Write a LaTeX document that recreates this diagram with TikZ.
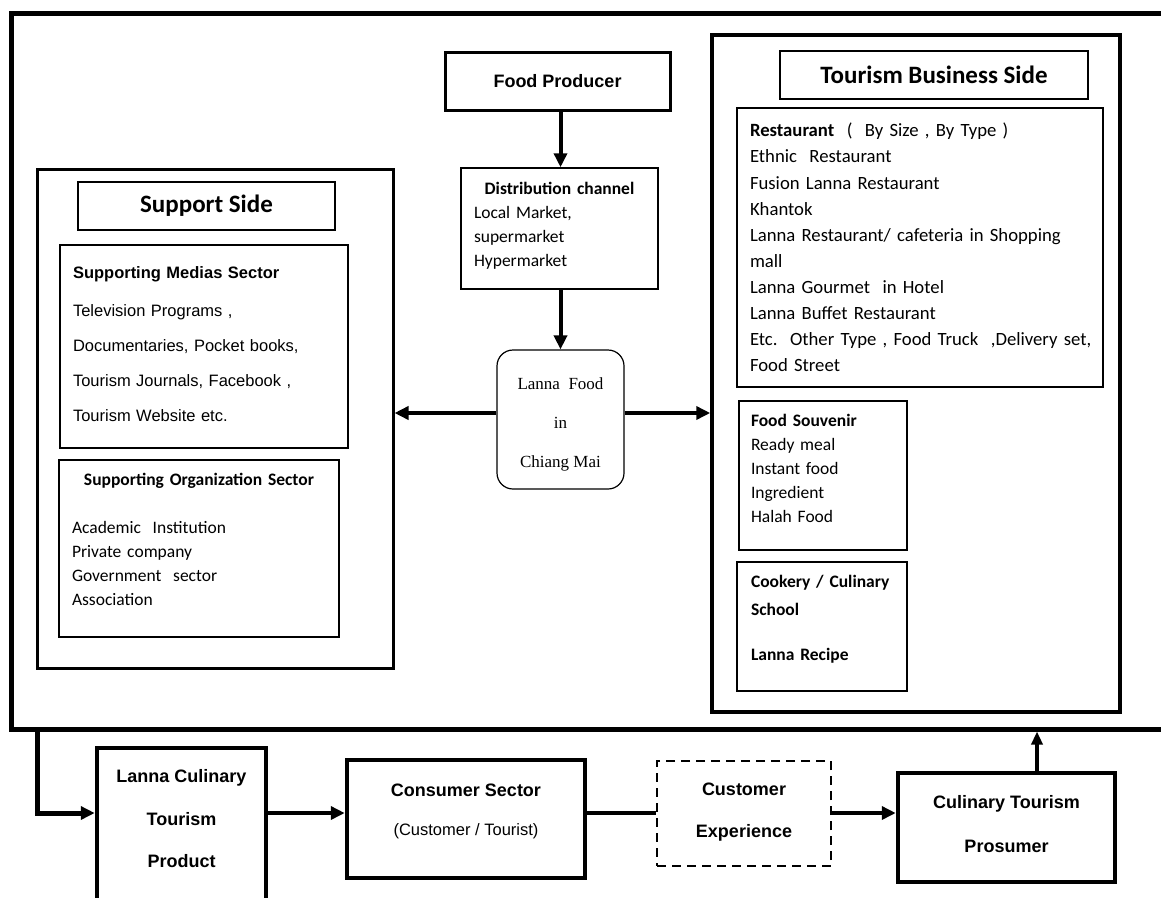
\documentclass[tikz,border=0pt]{standalone}
\usepackage{fontspec}
\setmainfont{Liberation Sans}
\newfontfamily\calib{Carlito}
\newfontfamily\timesr{Liberation Serif}
\usetikzlibrary{positioning}
\usetikzlibrary{arrows.meta}

\begin{document}
\begin{tikzpicture}[x=1pt, y=-1pt,
	box/.style={draw, rectangle, line width=1.5pt, inner sep=0pt},
	thick box/.style={box, line width=3pt},
	heavy box/.style={box, line width=4.5pt, align=center, font=\fontsize{18}{42.5}\selectfont\bfseries},
	list/.style={align=left, inner xsep=13pt, inner ysep=0pt},
	arr/.style={line width=4pt, -{Triangle[length=14pt, width=13pt]}}]
	\useasboundingbox (0,0) rectangle (1161,897);

	% Outer frame
	\draw[line width=5pt] (1175,13) -- (11,13) -- (11,729) -- (1175,729);
	\coordinate (drop) at (37,729);
	\coordinate (rise) at (1037,731.5);
	\coordinate (row) at (0,813);

	% Support side
	\node[thick box, minimum width=356, minimum height=499] (support) at (215,418.5) {};
	\node[box, minimum width=257, minimum height=48, font=\calib\fontsize{25}{30}\selectfont\bfseries] (supporttitle) at (206.5,206) {Support Side};
	\node[box, list, text width=262, minimum height=203, text depth=147pt, font=\fontsize{16.5}{35}\selectfont] (media) at (204,346.5) {\textbf{Supporting Medias Sector}\\[3pt] Television Programs ,\\ Documentaries, Pocket books,\\ Tourism Journals, Facebook ,\\ Tourism Website etc.};
	\node[box, list, text width=254, minimum height=177, text depth=138pt, font=\calib\fontsize{17.5}{24}\selectfont] (organization) at (199,548.5) {\makebox[\linewidth]{\bfseries Supporting Organization Sector}\\[24pt] Academic\ \ Institution\\ Private company\\ Government\ \ sector\\ Association};

	% Centre column
	\node[thick box, minimum width=225, minimum height=58, font=\fontsize{18}{22}\selectfont\bfseries] (producer) at (557.5,81) {Food Producer};
	\node[box, list, text width=171, minimum height=121, text depth=80pt, font=\calib\fontsize{17.5}{24}\selectfont] (channel) at (559.5,228.5) {\makebox[\linewidth]{\bfseries Distribution channel}\\ Local Market,\\ supermarket\\ Hypermarket};
	\node[draw, rounded corners=16pt, line width=1.2pt, minimum width=127, minimum height=139, align=center, text height=99pt, font=\timesr\fontsize{17}{39}\selectfont] (lanna) at (560.5,419.5) {Lanna\ \ Food\\ in\\ Chiang Mai};

	% Tourism business side
	\node[thick box, line width=3.5pt, minimum width=408, minimum height=677] (tourism) at (916,373.5) {};
	\node[box, minimum width=308, minimum height=48, font=\calib\fontsize{25}{30}\selectfont\bfseries] (tourismtitle) at (934,75) {Tourism Business Side};
	\node[box, list, text width=340, minimum height=279, font=\calib\fontsize{18.7}{26.1}\selectfont] (restaurant) at (920,247.5) {\textbf{Restaurant}\ \ (\ \ By Size , By Type )\\ Ethnic\ \ Restaurant\\ Fusion Lanna Restaurant\\ Khantok\\ Lanna Restaurant/ cafeteria in Shopping\\ mall\\ Lanna Gourmet\ \ in Hotel\\ Lanna Buffet Restaurant\\ \mbox{Etc.\ \ Other Type , Food Truck\ \ ,Delivery set,}\\ Food Street};
	\node[box, list, inner xsep=12pt, text width=144, minimum height=149, text depth=111pt, font=\calib\fontsize{17.5}{24}\selectfont] (souvenir) at (823,475.5) {\textbf{Food Souvenir}\\ Ready meal\\ Instant food\\ Ingredient\\ Halah Food};
	\node[box, list, inner xsep=14pt, text width=142, minimum height=129, text depth=90pt, font=\calib\fontsize{17.5}{24}\selectfont\bfseries] (cookery) at (822,626.5) {Cookery / Culinary\\[4pt] School\\[21pt] Lanna Recipe};

	% Bottom row
	\node[heavy box, minimum width=169, minimum height=152, text depth=11pt] (product) at (181.5,824) {Lanna Culinary\\ Tourism\\ Product};
	\node[heavy box, minimum width=238, minimum height=118, text depth=18pt, font=\fontsize{18}{39}\selectfont\bfseries] (consumer) at (466,819) {Consumer Sector\\ {\mdseries\fontsize{16.5}{39}\selectfont (Customer / Tourist)}};
	\node[draw, dash pattern=on 9pt off 6pt, line width=2.5pt, minimum width=174, minimum height=105, align=center, text depth=7pt, font=\fontsize{18}{42}\selectfont\bfseries] (experience) at (744,813.5) {Customer\\ Experience};
	\node[heavy box, minimum width=217, minimum height=109, text depth=7pt, font=\fontsize{18}{44}\selectfont\bfseries] (prosumer) at (1006.5,827.5) {Culinary Tourism\\ Prosumer};

	% Connections
	\draw[arr] (lanna.north |- producer.south) -- (lanna.north |- channel.north);
	\draw[arr] (lanna.north |- channel.south) -- (lanna.north);
	\draw[arr] ([yshift=6.5pt]lanna.west) -- ([yshift=6.5pt]lanna.west -| support.east);
	\draw[arr] ([yshift=6.5pt]lanna.east) -- ([yshift=6.5pt]lanna.east -| tourism.west);
	\draw[arr, line width=5pt] (drop) |- (product.west |- row);
	\draw[arr] (product.east |- row) -- (consumer.west |- row);
	\draw[line width=4pt] (consumer.east |- row) -- (experience.west |- row);
	\draw[arr] (experience.east |- row) -- (prosumer.west |- row);
	\draw[arr, -{Triangle[length=13pt, width=11pt]}] (prosumer.north -| rise) -- (rise);
\end{tikzpicture}
\end{document}
